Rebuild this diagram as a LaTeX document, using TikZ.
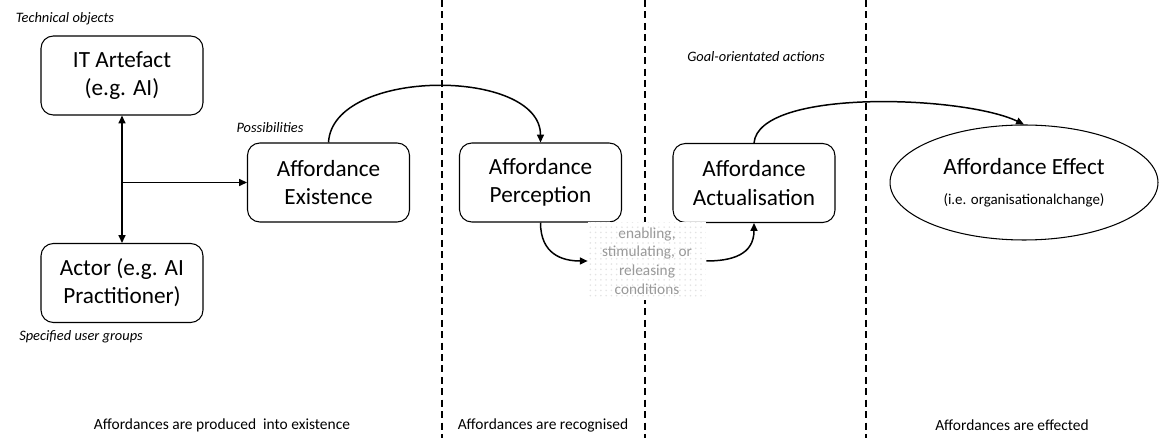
\documentclass[tikz,border=0pt]{standalone}
\usepackage{fontspec}
\setmainfont{Carlito}
\usepackage{tikz}
\usetikzlibrary{arrows.meta, shapes.geometric, patterns}
\tikzset{>={Triangle[length=4.5pt,width=4pt]},
    stagebox/.style={draw, rounded corners=7pt, line width=0.6pt, inner sep=0pt, minimum width=3.24cm, minimum height=1.58cm, align=center, font=\fontsize{13.2}{16}\selectfont},
    note/.style={font=\fontsize{8.2}{10}\selectfont\itshape},
    phase/.style={font=\fontsize{8.8}{10}\selectfont},
    link/.style={line width=0.85pt},
    divider/.style={line width=0.8pt, dash pattern=on 4pt off 2.5pt},
    condbox/.style={fill=white, postaction={pattern=dots, pattern color=gray!22}, inner sep=0pt, minimum width=2.36cm, minimum height=1.56cm, align=center, text=gray!80, font=\fontsize{8.7}{10.6}\selectfont},
}

\begin{document}
\begin{tikzpicture}[x=0.02cm, y=-0.02cm]
            \useasboundingbox (0,0) rectangle (1159,438);
            \draw[divider](442,0)--(442,438);
            \draw[divider](645,0)--(645,438);
            \draw[divider](866,0)--(866,438);
            \node[stagebox] (it) at (122,75.5) {IT Artefact\\(e.g. AI)};
            \node[stagebox] (actor) at (122,283) {Actor (e.g. AI\\Practitioner)};
            \node[stagebox] (exist) at (328.5,182.5) {Affordance\\Existence};
            \node[stagebox] (percep) at (540.5,182.5) {Affordance\\Perception};
            \node[stagebox] (actual) at (754,183) {Affordance\\Actualisation};
            \node[ellipse, draw, line width=0.6pt, inner sep=0pt, minimum width=5.36cm, minimum height=2.3cm, align=center, font=\fontsize{13.2}{16}\selectfont] (effect) at (1024,182.5) {Affordance Effect\\[1pt]{\fontsize{8.5}{10}\selectfont (i.e. organisationalchange)}};
            \node[condbox] (cond) at (647,261) {enabling,\\stimulating, or\\releasing\\conditions};
            \node[note] (tech) at (65,19) {Technical objects};
            \node[note] (users) at (81,337) {Specified user groups};
            \node[note] (poss) at (270,128) {Possibilities};
            \node[note] (goal) at (756,57) {Goal-orientated actions};
            \node[phase] (ph1) at (222,425) {Affordances are produced\ \ into existence};
            \node[phase] (ph2) at (543,425) {Affordances are recognised};
            \node[phase] (ph3) at (1012,425) {Affordances are effected};
            \coordinate (j) at (122,182.5);
            \draw[link,<->](it)--(actor);
            \draw[link,->](j)--(exist.west);
            \draw[link,->](exist.north) .. controls +(4,-75) and +(0,-75) .. (percep.north);
            \draw[link,->](percep.south) .. controls +(0,32) and +(-25,0) .. (cond.west);
            \draw[link,->](cond.east) .. controls +(25,0) and +(0,32) .. (actual.south);
            \draw[link,->](actual.north) .. controls +(5,-55) and +(-60,-29) .. (effect.north);
        \end{tikzpicture}
\end{document}
